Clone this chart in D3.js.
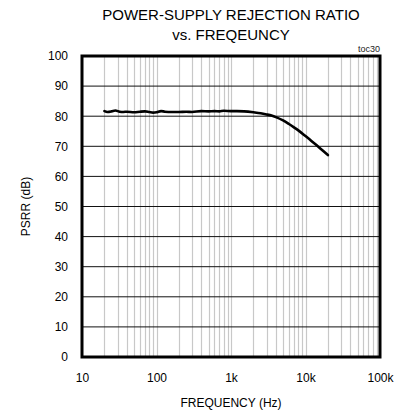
<!DOCTYPE html>
<html>
<head>
<meta charset="utf-8">
<script src="https://cdn.jsdelivr.net/npm/d3@7"></script>
<style>
  html, body { margin: 0; padding: 0; background: #fff; }
  svg { display: block; font-family: "Liberation Sans", Arial, sans-serif; }
</style>
</head>
<body>
<svg id="chart" width="400" height="415"></svg>
<script>
// ---- data ----
const freqHz = [20, 22, 25, 28, 32, 36, 40, 50, 60, 70, 80, 90, 100, 115, 130, 160, 200, 250, 300, 400, 500, 600, 700, 800, 1000, 1200, 1500, 2000, 2500, 3000, 3500, 4000, 5000, 6000, 7000, 8000, 10000, 12000, 14000, 17000, 20000];
const psrrDb = [81.7, 81.4, 81.6, 81.9, 81.5, 81.4, 81.5, 81.3, 81.5, 81.6, 81.4, 81.2, 81.3, 81.7, 81.5, 81.4, 81.4, 81.5, 81.4, 81.7, 81.6, 81.7, 81.6, 81.8, 81.7, 81.7, 81.6, 81.3, 81.0, 80.6, 80.2, 79.7, 78.6, 77.4, 76.3, 75.3, 73.4, 71.8, 70.4, 68.6, 67.1];
const xTickValues = [10, 100, 1000, 10000, 100000];
const xTickLabels = ["10", "100", "1k", "10k", "100k"];
const yTickValues = [0, 10, 20, 30, 40, 50, 60, 70, 80, 90, 100];
const titleLines = ["POWER-SUPPLY REJECTION RATIO", "vs. FREQEUNCY"];
const xTitle = "FREQUENCY (Hz)";
const yTitle = "PSRR (dB)";
const tocLabel = "toc30";

// ---- layout ----
const L = 82, R = 380, T = 56, B = 357;
const svg = d3.select("#chart");
const x = d3.scaleLog().domain([10, 100000]).range([L, R]);
const y = d3.scaleLinear().domain([0, 100]).range([B, T]);

// vertical minor grid
const minor = [];
for (let d = 10; d < 100000; d *= 10) {
  for (let m = 1; m <= 9; m++) {
    const v = d * m;
    if (v > 10 && v < 100000) minor.push(v);
  }
}
svg.append("g").selectAll("line").data(minor).join("line")
  .attr("x1", d => Math.round(x(d)) + 0.5).attr("x2", d => Math.round(x(d)) + 0.5)
  .attr("y1", T).attr("y2", B)
  .attr("stroke", "#c8c8c8").attr("stroke-width", 1.2);

// horizontal grid
svg.append("g").selectAll("line").data(yTickValues.filter(v => v > 0 && v < 100)).join("line")
  .attr("x1", L).attr("x2", R)
  .attr("y1", d => y(d)).attr("y2", d => y(d))
  .attr("stroke", "#111").attr("stroke-width", 1);

// curve
const line = d3.line().x((d, i) => x(d)).y((d, i) => y(psrrDb[i])).curve(d3.curveMonotoneX);
svg.append("path").attr("d", line(freqHz))
  .attr("fill", "none").attr("stroke", "#000").attr("stroke-width", 2.6)
  .attr("stroke-linejoin", "round").attr("stroke-linecap", "round");

// frame
svg.append("rect").attr("x", L).attr("y", T).attr("width", R - L).attr("height", B - T)
  .attr("fill", "none").attr("stroke", "#000").attr("stroke-width", 3);

// axes (labels only)
const xAxis = d3.axisBottom(x).tickValues(xTickValues)
  .tickFormat((d, i) => xTickLabels[i]).tickSize(0).tickPadding(16);
const gx = svg.append("g").attr("transform", `translate(0,${B})`).call(xAxis);
gx.select(".domain").remove();
gx.selectAll("text").attr("font-size", 12).attr("fill", "#000")
  .attr("font-family", "Liberation Sans, Arial, sans-serif");

const yAxis = d3.axisLeft(y).tickValues(yTickValues).tickSize(0).tickPadding(14);
const gy = svg.append("g").attr("transform", `translate(${L},0)`).call(yAxis);
gy.select(".domain").remove();
gy.selectAll("text").attr("font-size", 12).attr("fill", "#000")
  .attr("font-family", "Liberation Sans, Arial, sans-serif");

// titles
const cx = (L + R) / 2;
svg.append("text").attr("x", cx).attr("y", 20).attr("text-anchor", "middle")
  .attr("font-size", 15).text(titleLines[0]);
svg.append("text").attr("x", cx).attr("y", 40).attr("text-anchor", "middle")
  .attr("font-size", 15).text(titleLines[1]);
svg.append("text").attr("x", cx).attr("y", 407).attr("text-anchor", "middle")
  .attr("font-size", 12).text(xTitle);
svg.append("text").attr("transform", `translate(30,${(T + B) / 2}) rotate(-90)`)
  .attr("text-anchor", "middle").attr("font-size", 12).text(yTitle);
svg.append("text").attr("x", R).attr("y", 52).attr("text-anchor", "end")
  .attr("font-size", 9).attr("fill", "#222").text(tocLabel);
</script>
</body>
</html>
